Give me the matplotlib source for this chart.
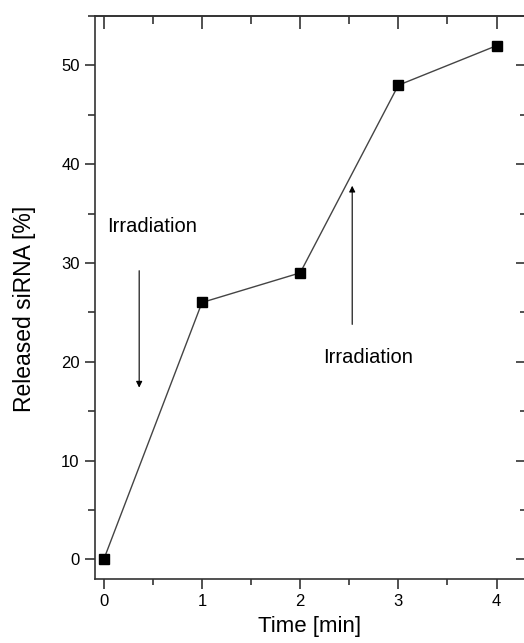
import numpy as np
import matplotlib.pyplot as plt
from matplotlib.ticker import MultipleLocator

plt.rcParams["font.family"] = ["Liberation Sans", "DejaVu Sans"]

time_min = [0, 1, 2, 3, 4]
released = [0, 26, 29, 48, 52]

fig = plt.figure(figsize=(5.24, 6.43), dpi=100)
ax = fig.add_axes([0.1813, 0.0995, 0.8187, 0.8755])

ax.plot(time_min, released, color="#444444", linewidth=1.0, marker="s",
        markersize=7.5, markerfacecolor="black", markeredgecolor="black")

ax.set_xlim(-0.09, 4.28)
ax.set_ylim(-2, 55)
ax.xaxis.set_major_locator(MultipleLocator(1))
ax.xaxis.set_minor_locator(MultipleLocator(0.5))
ax.yaxis.set_major_locator(MultipleLocator(10))
ax.yaxis.set_minor_locator(MultipleLocator(5))

tick_col = "#333333"
ax.tick_params(axis="both", which="both", direction="out", labelsize=12,
               width=1.2, color=tick_col, pad=4)
ax.tick_params(which="major", length=7)
ax.tick_params(axis="x", which="minor", length=4)
ax.tick_params(axis="y", which="minor", length=5)
for s in ["left", "bottom", "top"]:
    ax.spines[s].set_linewidth(1.2)
    ax.spines[s].set_color(tick_col)
ax.spines["right"].set_visible(False)

# inward ticks on top and right
top = ax.secondary_xaxis("top")
top.xaxis.set_major_locator(MultipleLocator(1))
top.xaxis.set_minor_locator(MultipleLocator(0.5))
top.tick_params(which="both", direction="in", labeltop=False, width=1.2, color=tick_col)
top.tick_params(which="major", length=9)
top.tick_params(which="minor", length=6)
top.spines["top"].set_linewidth(1.2)
top.spines["top"].set_color(tick_col)

right = ax.secondary_yaxis("right")
right.yaxis.set_major_locator(MultipleLocator(10))
right.yaxis.set_minor_locator(MultipleLocator(5))
right.tick_params(which="both", direction="in", labelright=False, width=1.2, color=tick_col)
right.tick_params(which="major", length=6)
right.tick_params(which="minor", length=3)
right.spines["right"].set_visible(False)

ax.set_xlabel("Time [min]", fontsize=16, labelpad=5)
ax.set_ylabel("Released siRNA [%]", fontsize=16.5, labelpad=18)
ax.yaxis.label.set_y(0.48)

ax.text(0.03, 33.7, "Irradiation", fontsize=14.5, va="center", ha="left")
ax.annotate("", xy=(0.36, 17.1), xytext=(0.36, 29.5),
            arrowprops=dict(arrowstyle="-|>", color="black", lw=0.8, mutation_scale=9))
ax.text(2.69, 20.4, "Irradiation", fontsize=14.5, va="center", ha="center")
ax.annotate("", xy=(2.53, 38.1), xytext=(2.53, 23.5),
            arrowprops=dict(arrowstyle="-|>", color="black", lw=0.8, mutation_scale=9))

fig.savefig("out.png", dpi=100)
